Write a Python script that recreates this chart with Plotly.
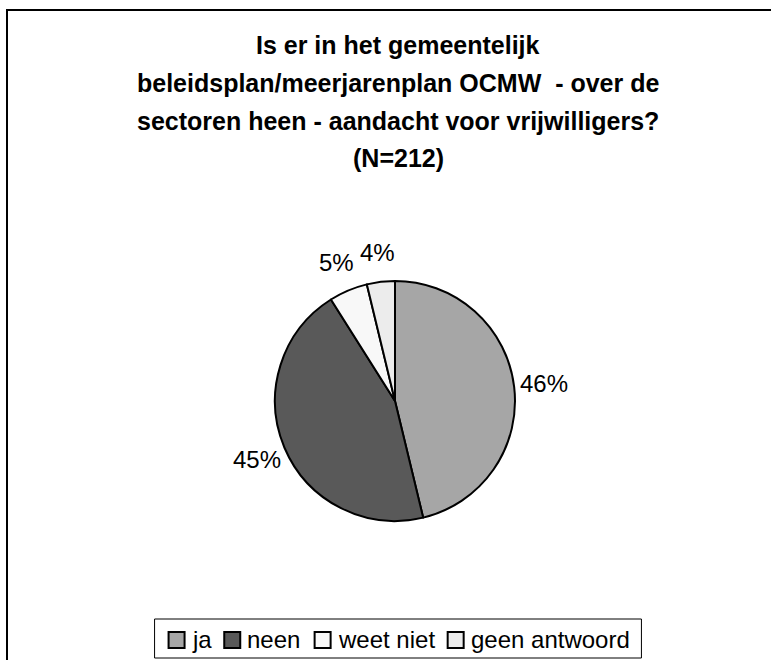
import math
import plotly.graph_objects as go

# ---- data ----
labels = ["ja", "neen", "weet niet", "geen antwoord"]
counts = [98, 95, 11, 8]          # N = 212
colors = ["#A6A6A6", "#595959", "#F8F8F8", "#ECECEC"]
title_lines = [
    "Is er in het gemeentelijk",
    "beleidsplan/meerjarenplan OCMW  - over de",
    "sectoren heen - aandacht voor vrijwilligers?",
    "(N=212)",
]

W, H = 771, 660
FONT = "Liberation Sans, Arial, sans-serif"


def px(x):
    return x / W


def py(y):
    return 1 - y / H


# pie placement (pixels)
cx, cy, r = 395, 401, 120
label_r = r + 30

fig = go.Figure(
    go.Pie(
        labels=labels,
        values=counts,
        sort=False,
        direction="clockwise",
        rotation=0,
        marker=dict(colors=colors, line=dict(color="black", width=2)),
        textinfo="none",
        hoverinfo="label+value+percent",
        domain=dict(x=[px(cx - r), px(cx + r)], y=[py(cy + r), py(cy - r)]),
        showlegend=False,
    )
)

shapes = []
annotations = []

# percentage labels outside the pie, placed at each slice's mid-angle (Excel style)
total_n = sum(counts)
cum = 0
for v in counts:
    mid = (cum + v / 2) / total_n * 2 * math.pi
    cum += v
    lx_, ly_ = cx + label_r * math.sin(mid), cy - label_r * math.cos(mid)
    annotations.append(dict(text=f"{round(100 * v / total_n)}%", x=px(lx_), y=py(ly_),
                            xref="paper", yref="paper", xanchor="center", yanchor="middle",
                            showarrow=False, font=dict(family=FONT, size=24, color="black")))

# outer chart frame
shapes.append(dict(type="rect", xref="paper", yref="paper",
                   x0=px(7), x1=px(W + 30), y0=py(H + 30), y1=py(10),
                   line=dict(color="black", width=2), fillcolor="rgba(0,0,0,0)"))

# title lines
title_y = [45, 83, 121, 158]
for t, yy in zip(title_lines, title_y):
    annotations.append(dict(text="<b>" + t + "</b>", x=px(398), y=py(yy),
                            xref="paper", yref="paper", xanchor="center", yanchor="middle",
                            showarrow=False, font=dict(family=FONT, size=25, color="black")))

# custom legend (Excel style)
cw = {"j": .222, "a": .556, "n": .556, "e": .556, "w": .722, "t": .278, " ": .278,
      "i": .222, "g": .556, "o": .556, "r": .333, "d": .556}
fs = 24
sq, gap_in, gap_out, pad = 16, 5, 14, 13
text_w = [sum(cw.get(c, .556) for c in lab) * fs for lab in labels]
total = sum(sq + 2 + gap_in + tw for tw in text_w) + gap_out * (len(labels) - 1)
lx = 398 - total / 2
ly = 639
shapes.append(dict(type="rect", xref="paper", yref="paper",
                   x0=px(lx - pad), x1=px(lx + total + pad), y0=py(658), y1=py(619),
                   line=dict(color="black", width=1), fillcolor="white"))
x = lx
for lab, col, tw in zip(labels, colors, text_w):
    shapes.append(dict(type="rect", xref="paper", yref="paper",
                       x0=px(x + 1), x1=px(x + 1 + sq), y0=py(ly + sq / 2 + 1), y1=py(ly - sq / 2 + 1),
                       line=dict(color="black", width=2), fillcolor=col))
    annotations.append(dict(text=lab, x=px(x + sq + 2 + gap_in - 1), y=py(ly),
                            xref="paper", yref="paper", xanchor="left", yanchor="middle",
                            showarrow=False, font=dict(family=FONT, size=fs, color="black")))
    x += sq + 2 + gap_in + tw + gap_out

fig.update_layout(
    width=W, height=H,
    margin=dict(l=0, r=0, t=0, b=0),
    paper_bgcolor="white",
    plot_bgcolor="white",
    shapes=shapes,
    annotations=annotations,
    showlegend=False,
)

fig.write_html("out.html")
